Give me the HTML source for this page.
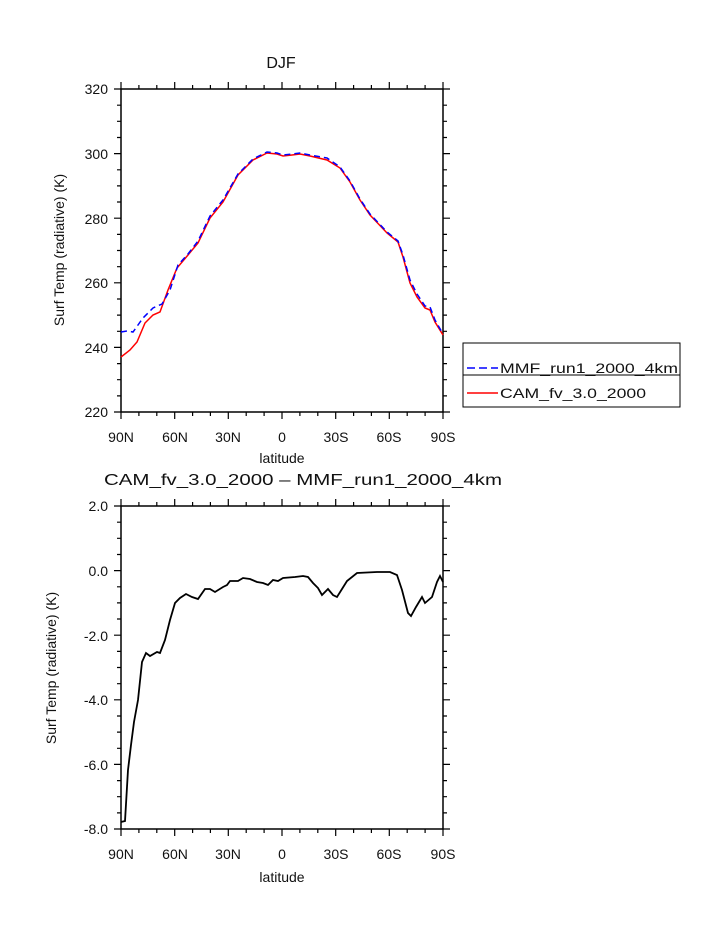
<!DOCTYPE html><html><head><style>body{margin:0;background:#fff}svg text{font-family:"Liberation Sans",sans-serif;fill:#111}</style></head><body>
<svg width="723" height="935" xmlns="http://www.w3.org/2000/svg">
<g stroke="#000" stroke-width="1.5" fill="none">
<rect x="121" y="89" width="322" height="323"/>
<rect x="121" y="506" width="322" height="323"/>
</g>
<path stroke="#000" stroke-width="1.2" fill="none" d="
M114 89H121M443 89H450 M117 105.2H121M443 105.2H447 M117 121.3H121M443 121.3H447 M117 137.5H121M443 137.5H447
M114 153.6H121M443 153.6H450 M117 169.8H121M443 169.8H447 M117 185.9H121M443 185.9H447 M117 202H121M443 202H447
M114 218.2H121M443 218.2H450 M117 234.4H121M443 234.4H447 M117 250.5H121M443 250.5H447 M117 266.7H121M443 266.7H447
M114 282.8H121M443 282.8H450 M117 299H121M443 299H447 M117 315.1H121M443 315.1H447 M117 331.3H121M443 331.3H447
M114 347.4H121M443 347.4H450 M117 363.6H121M443 363.6H447 M117 379.7H121M443 379.7H447 M117 395.9H121M443 395.9H447
M114 412H121M443 412H450
M114 506H121M443 506H450 M117 522.2H121M443 522.2H447 M117 538.3H121M443 538.3H447 M117 554.5H121M443 554.5H447
M114 570.6H121M443 570.6H450 M117 586.8H121M443 586.8H447 M117 602.9H121M443 602.9H447 M117 619H121M443 619H447
M114 635.2H121M443 635.2H450 M117 651.4H121M443 651.4H447 M117 667.5H121M443 667.5H447 M117 683.7H121M443 683.7H447
M114 699.8H121M443 699.8H450 M117 716H121M443 716H447 M117 732.1H121M443 732.1H447 M117 748.3H121M443 748.3H447
M114 764.4H121M443 764.4H450 M117 780.6H121M443 780.6H447 M117 796.7H121M443 796.7H447 M117 812.9H121M443 812.9H447
M114 829H121M443 829H450
M121 82V89M121 412V419 M138.9 85V89M138.9 412V416 M156.8 85V89M156.8 412V416
M174.7 82V89M174.7 412V419 M192.6 85V89M192.6 412V416 M210.4 85V89M210.4 412V416
M228.3 82V89M228.3 412V419 M246.2 85V89M246.2 412V416 M264.1 85V89M264.1 412V416
M282 82V89M282 412V419 M299.9 85V89M299.9 412V416 M317.8 85V89M317.8 412V416
M335.7 82V89M335.7 412V419 M353.6 85V89M353.6 412V416 M371.4 85V89M371.4 412V416
M389.3 82V89M389.3 412V419 M407.2 85V89M407.2 412V416 M425.1 85V89M425.1 412V416
M443 82V89M443 412V419
M121 499V506M121 829V836 M138.9 502V506M138.9 829V833 M156.8 502V506M156.8 829V833
M174.7 499V506M174.7 829V836 M192.6 502V506M192.6 829V833 M210.4 502V506M210.4 829V833
M228.3 499V506M228.3 829V836 M246.2 502V506M246.2 829V833 M264.1 502V506M264.1 829V833
M282 499V506M282 829V836 M299.9 502V506M299.9 829V833 M317.8 502V506M317.8 829V833
M335.7 499V506M335.7 829V836 M353.6 502V506M353.6 829V833 M371.4 502V506M371.4 829V833
M389.3 499V506M389.3 829V836 M407.2 502V506M407.2 829V833 M425.1 502V506M425.1 829V833
M443 499V506M443 829V836"/>
<text x="281" y="68" font-size="16" text-anchor="middle">DJF</text>
<g font-size="14" text-anchor="end">
<text x="108" y="94">320</text><text x="108" y="159">300</text><text x="108" y="224">280</text><text x="108" y="288">260</text><text x="108" y="353">240</text><text x="108" y="417">220</text>
<text x="108" y="511">2.0</text><text x="108" y="576">0.0</text><text x="108" y="641">-2.0</text><text x="108" y="705">-4.0</text><text x="108" y="770">-6.0</text><text x="108" y="834">-8.0</text>
</g>
<g font-size="14" text-anchor="middle">
<text x="121" y="442">90N</text><text x="175" y="442">60N</text><text x="228" y="442">30N</text><text x="282" y="442">0</text><text x="336" y="442">30S</text><text x="389" y="442">60S</text><text x="443" y="442">90S</text>
<text x="121" y="859">90N</text><text x="175" y="859">60N</text><text x="228" y="859">30N</text><text x="282" y="859">0</text><text x="336" y="859">30S</text><text x="389" y="859">60S</text><text x="443" y="859">90S</text>
<text x="282" y="463">latitude</text><text x="282" y="882">latitude</text>
</g>
<text x="104" y="485" font-size="16" textLength="398" lengthAdjust="spacingAndGlyphs">CAM_fv_3.0_2000 – MMF_run1_2000_4km</text>
<text transform="translate(64,250) rotate(-90)" font-size="14" text-anchor="middle">Surf Temp (radiative) (K)</text>
<text transform="translate(56,668) rotate(-90)" font-size="14" text-anchor="middle">Surf Temp (radiative) (K)</text>
<polyline fill="none" stroke="#f00" stroke-width="1.5" points="121,357 130,350 137,342 145,323 153,315 160,312 168,290 177,268 188,255 198,243 210,218 223,202 238,175 253,160 267,153 277,154 283,156 292,155 300,154 310,156 327,160 340,168 350,182 360,200 370,215 387,233 398,242 403,257 410,283 417,297 425,308 430,310 435,322 443,335"/>
<polyline fill="none" stroke="#00f" stroke-width="1.5" stroke-dasharray="6,4" points="121,332 127,331 133,332 143,318 153,308 162,304 170,290 178,265 188,254 198,241 210,216 223,200 238,174 253,159 267,152 277,153 283,155 292,154 300,153 310,155 327,158 340,167 350,181 360,199 370,214 387,232 398,241 403,255 410,280 417,294 425,306 430,307 435,320 443,334"/>
<polyline fill="none" stroke="#000" stroke-width="1.8" points="121,822 125,821 128,770 131,745 134,722 138,700 142,662 146,653 150,656 157,652 160,653 165,640 170,620 175,603 180,598 186,594 192,597 198,599 205,589 210,589 215,592 223,587 227,585 230,581 238,581 243,578 250,579 257,582 263,583 268,585 273,580 278,581 283,578 295,577 303,576 308,577 313,583 318,588 322,595 328,589 333,595 337,597 342,589 347,581 357,573 377,572 390,572 397,575 402,590 408,613 411,616 416,607 422,597 425,603 432,597 437,582 440,576 443,582"/>
<rect x="463" y="343" width="217" height="64" fill="none" stroke="#000" stroke-width="1"/>
<line x1="463" y1="375" x2="680" y2="375" stroke="#000" stroke-width="1"/>
<line x1="467" y1="368" x2="498" y2="368" stroke="#00f" stroke-width="1.5" stroke-dasharray="8,4"/>
<line x1="467" y1="393" x2="498" y2="393" stroke="#f00" stroke-width="1.5"/>
<text x="500" y="373" font-size="14" textLength="178" lengthAdjust="spacingAndGlyphs">MMF_run1_2000_4km</text>
<text x="500" y="398" font-size="14" textLength="146" lengthAdjust="spacingAndGlyphs">CAM_fv_3.0_2000</text>
</svg></body></html>
